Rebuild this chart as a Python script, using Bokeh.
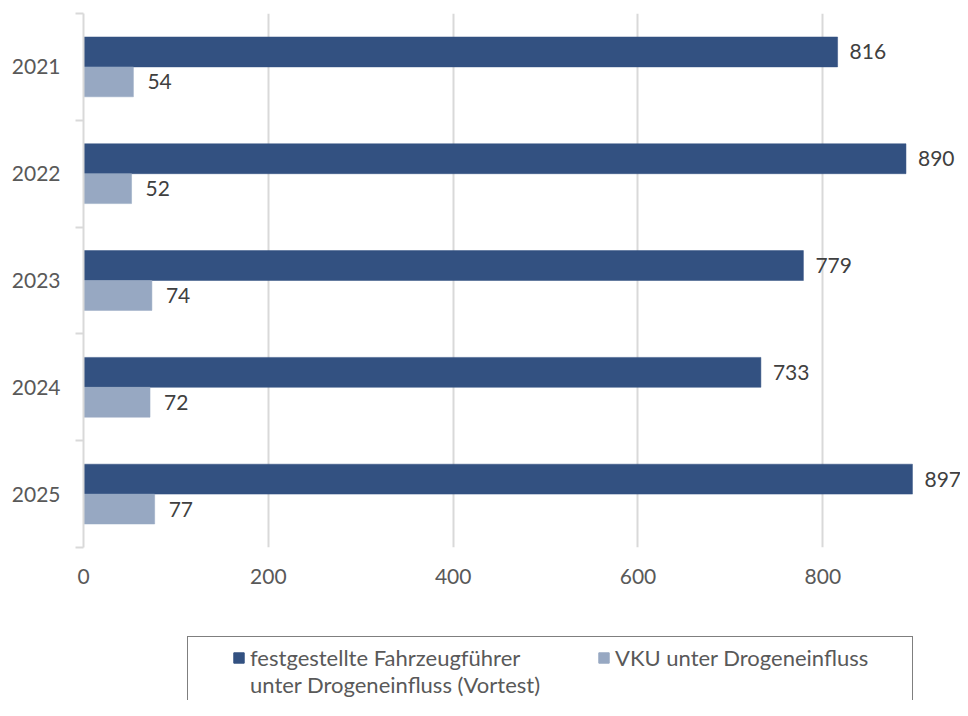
from bokeh.plotting import figure
from bokeh.layouts import column
from bokeh.models import ColumnDataSource, Range1d, FixedTicker, Legend, LegendItem
from bokeh.transform import dodge
from bokeh.core.properties import value
from bokeh.embed import file_html
from bokeh.resources import INLINE

years = ["2021", "2022", "2023", "2024", "2025"]
fahrzeugfuehrer = [816, 890, 779, 733, 897]
vku = [54, 52, 74, 72, 77]
series_names = [["festgestellte Fahrzeugführer", "unter Drogeneinfluss (Vortest)"], ["VKU unter Drogeneinfluss"]]
x_ticks = [0, 200, 400, 600, 800]

DARK = "#335181"
LIGHT = "#97A8C2"
FONT = "Lato"

ypos = [i + 0.5 for i in range(len(years))]
src = ColumnDataSource(dict(
    y=ypos, year=years, a=fahrzeugfuehrer, b=vku,
    a_lbl=[str(v) for v in fahrzeugfuehrer], b_lbl=[str(v) for v in vku],
))

p = figure(width=960, height=600, output_backend="svg", toolbar_location=None,
           x_range=Range1d(0, 949), y_range=Range1d(len(years), 0),
           min_border_left=83, min_border_right=0, min_border_top=13, min_border_bottom=53)
p.outline_line_color = None
p.background_fill_color = "white"

bar_style = [dict(fill_color=DARK, line_color=DARK), dict(fill_color=LIGHT, line_color=LIGHT)]

r1 = p.hbar(y=dodge("y", -0.14, range=p.y_range), right="a", left=0, height=0.28,
            source=src, line_width=0.5, **bar_style[0])
r2 = p.hbar(y=dodge("y", 0.14, range=p.y_range), right="b", left=0, height=0.28,
            source=src, line_width=0.5, **bar_style[1])

p.text(x="a", y=dodge("y", -0.14, range=p.y_range), text="a_lbl", source=src,
       x_offset=12, text_baseline="middle", text_align="left",
       text_font=value(FONT), text_font_size="21px", text_color="#404040")
p.text(x="b", y=dodge("y", 0.14, range=p.y_range), text="b_lbl", source=src,
       x_offset=14, text_baseline="middle", text_align="left",
       text_font=value(FONT), text_font_size="21px", text_color="#404040")

# x axis
p.xaxis.ticker = FixedTicker(ticks=x_ticks)
p.xaxis.axis_line_color = None
p.xaxis.major_tick_line_color = None
p.xaxis.minor_tick_line_color = None
p.xaxis.major_tick_out = 0
p.xaxis.major_tick_in = 0
p.xaxis.major_label_standoff = 21
p.xaxis.major_label_text_font = FONT
p.xaxis.major_label_text_font_size = "21px"
p.xaxis.major_label_text_color = "#595959"

# y axis
p.yaxis.ticker = FixedTicker(ticks=ypos, minor_ticks=list(range(len(years) + 1)))
p.yaxis.major_label_overrides = {y: yr for y, yr in zip(ypos, years)}
p.yaxis.axis_line_color = "#D9D9D9"
p.yaxis.axis_line_width = 2
p.yaxis.major_tick_line_color = None
p.yaxis.major_tick_out = 0
p.yaxis.major_tick_in = 0
p.yaxis.minor_tick_line_color = "#D9D9D9"
p.yaxis.minor_tick_line_width = 2
p.yaxis.minor_tick_out = 8
p.yaxis.minor_tick_in = 0
p.yaxis.major_label_standoff = 15
p.yaxis.major_label_text_font = FONT
p.yaxis.major_label_text_font_size = "21px"
p.yaxis.major_label_text_color = "#595959"

p.xgrid.ticker = FixedTicker(ticks=x_ticks)
p.xgrid.grid_line_color = "#D9D9D9"
p.xgrid.grid_line_width = 2
p.ygrid.grid_line_color = None

# legend figure (shares the series styling)
lf = figure(width=960, height=100, output_backend="svg", toolbar_location=None,
            x_range=Range1d(0, 1), y_range=Range1d(0, 1),
            min_border=0, min_border_left=0, min_border_right=0, min_border_top=0, min_border_bottom=0)
lf.axis.visible = False
lf.grid.visible = False
lf.outline_line_color = None
l1 = lf.hbar(y="y", right="a", left=0, height=0.28, source=src, visible=False, **bar_style[0])
l2 = lf.hbar(y="y", right="b", left=0, height=0.28, source=src, visible=False, **bar_style[1])

label_style = dict(label_text_font=FONT, label_text_font_size="22px",
                   label_text_color="#595959", label_standoff=5,
                   glyph_width=13, glyph_height=13, margin=0)

legend_a = Legend(items=[LegendItem(label=series_names[0][0], renderers=[l1]),
                         LegendItem(label=series_names[0][1], renderers=[])],
                  orientation="vertical", location=(104, -6),
                  padding=7, spacing=0, label_width=655,
                  title=" ", title_location="left", title_standoff=36,
                  title_text_font_size="1px",
                  border_line_color="black", border_line_width=1.5,
                  background_fill_color="white", background_fill_alpha=1.0,
                  **label_style)
legend_b = Legend(items=[LegendItem(label=series_names[1][0], renderers=[l2])],
                  orientation="vertical", location=(514, 29),
                  padding=0, spacing=0,
                  border_line_color=None, background_fill_alpha=0.0,
                  **label_style)
lf.add_layout(legend_a, "center")
lf.add_layout(legend_b, "center")

layout = column(p, lf, spacing=0)
open("out.html", "w").write(file_html(layout, INLINE))
